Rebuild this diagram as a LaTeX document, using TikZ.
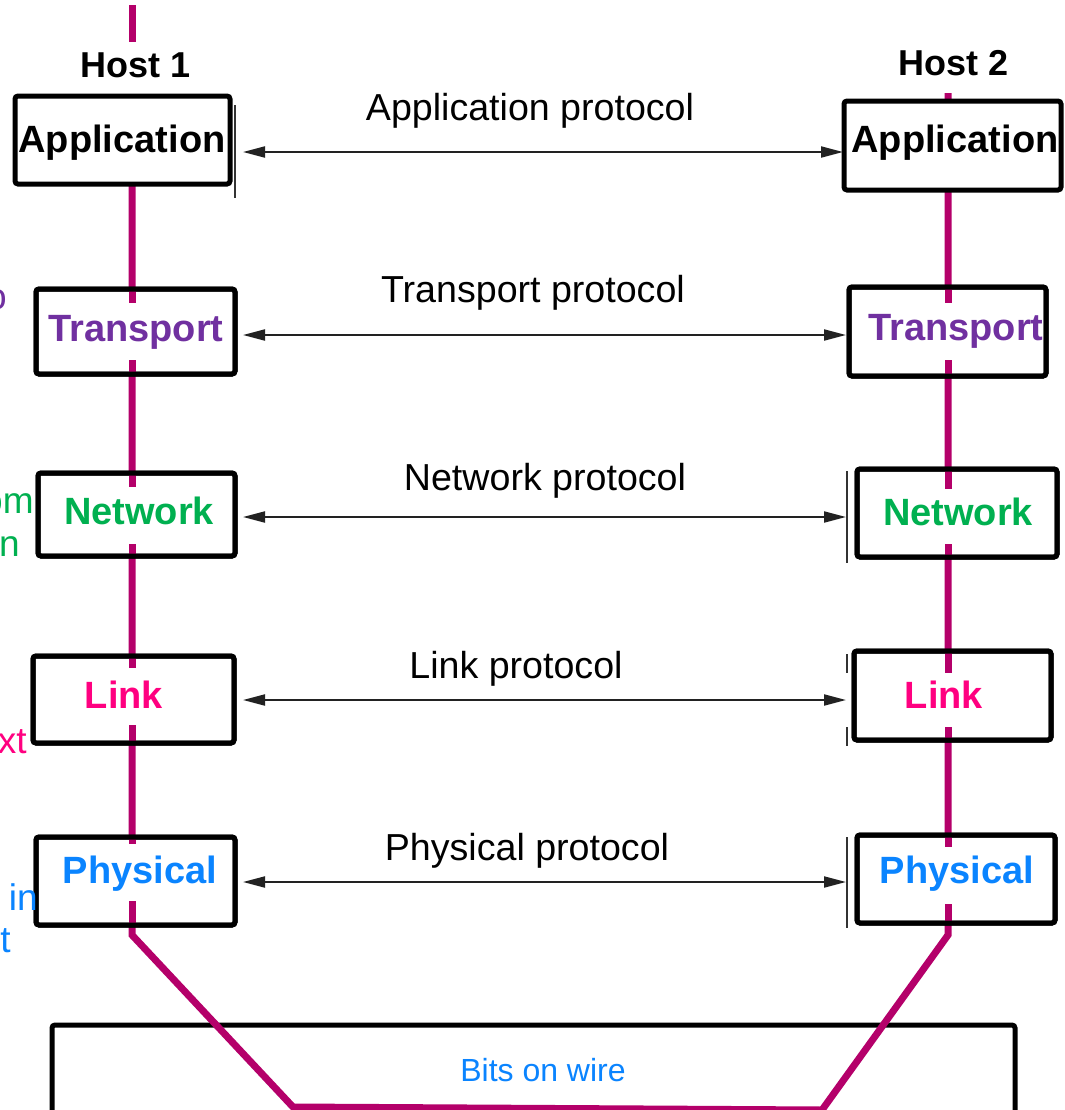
\documentclass[tikz,border=0pt]{standalone}
\usepackage{fontspec}
\setmainfont{Liberation Sans}
\usetikzlibrary{arrows.meta,calc}
\definecolor{wirec}{HTML}{B4006A}
\definecolor{tpurple}{HTML}{7030A0}
\definecolor{ngreen}{HTML}{00B050}
\definecolor{lpink}{HTML}{FF0080}
\definecolor{pblue}{HTML}{0A84FF}
\definecolor{arrowc}{HTML}{222222}
\tikzset{
  layerbox/.style={draw=black, line width=2.5pt, fill=white, rounded corners=1.5pt,
    outer sep=0pt, inner sep=0pt},
  layername/.style={anchor=base, inner sep=0pt, font=\fontsize{19pt}{23pt}\selectfont\bfseries},
  hostname/.style={anchor=base, inner sep=0pt, font=\fontsize{18pt}{22pt}\selectfont\bfseries},
  protoname/.style={anchor=base, inner sep=0pt, font=\fontsize{18.8pt}{23pt}\selectfont},
  sidenote/.style={anchor=base east, inner sep=0pt, font=\fontsize{18.5pt}{23pt}\selectfont},
  wire/.style={draw=wirec, line width=3.5pt},
  proto/.style={draw=arrowc, line width=1pt,
    {Triangle[length=11pt,width=5.5pt]}-{Triangle[length=11pt,width=5.5pt]}},
  ghostedge/.style={draw=black!80, line width=0.7pt}
}
\begin{document}
\begin{tikzpicture}[x=0.5pt,y=-0.5pt]
\useasboundingbox (0,0) rectangle (1065,1110);
\clip (0,0) rectangle (1065,1110);
\fill[white] (0,0) rectangle (1065,1110);

% wire positions of the two hosts
\coordinate (wl) at (132,0);
\coordinate (wr) at (948,0);

% the physical medium
\node[layerbox, minimum width=481.5pt, minimum height=50pt] (bits) at (533.5,1075) {};
\node[anchor=base, inner sep=0pt, text=pblue, font=\fontsize{16pt}{19pt}\selectfont] (bitslbl) at (543,1081) {Bits on wire};

% path of the data through both stacks and the wire
\coordinate (wtop) at (132,5);
\coordinate (wtopend) at (132,42);
\coordinate (wl1) at (132,186);
\coordinate (wl2) at (132,935);
\coordinate (wb1) at (293,1107);
\coordinate (wb2) at (822,1110);
\coordinate (wr2) at (948,935);
\coordinate (wr1) at (948,93);
\draw[wire] (wtop) -- (wtopend);
\draw[wire, line join=miter] (wl1) -- (wl2) -- (wb1) -- (wb2) -- (wr2) -- (wr1);

% host 1 stack
\node[layerbox, minimum width=107.5pt, minimum height=44pt]   (appL) at (122.5,140) {};
\node[layerbox, minimum width=99.5pt,  minimum height=42.5pt] (tL)   at (135.5,331.5) {};
\node[layerbox, minimum width=98.5pt,  minimum height=41.5pt] (nL)   at (136.5,514.5) {};
\node[layerbox, minimum width=100.5pt, minimum height=43.5pt] (lL)   at (133.5,699.5) {};
\node[layerbox, minimum width=99.5pt,  minimum height=44pt]   (pL)   at (135.5,881) {};

% host 2 stack
\node[layerbox, minimum width=108.5pt, minimum height=44.5pt] (appR) at (952.5,145.5) {};
\node[layerbox, minimum width=98.5pt,  minimum height=44.5pt] (tR)   at (947.5,331.5) {};
\node[layerbox, minimum width=100pt,   minimum height=44pt]   (nR)   at (957,513) {};
\node[layerbox, minimum width=98.5pt,  minimum height=44.5pt] (lR)   at (952.5,695.5) {};
\node[layerbox, minimum width=99pt,    minimum height=44pt]   (pR)   at (956,879) {};

% wire visible inside the lower layers
\draw[wire] (tL.north -| wl) -- ++(0,14);
\draw[wire] (tL.south -| wl) -- ++(0,-14);
\draw[wire] (nL.north -| wl) -- ++(0,14);
\draw[wire] (nL.south -| wl) -- ++(0,-12);
\draw[wire] (lL.north -| wl) -- ++(0,12);
\draw[wire] (lL.south -| wl) -- ++(0,-18);
\draw[wire] (pL.north -| wl) -- ++(0,7);
\draw[wire] (pL.south -| wl) -- ++(0,-24);
\draw[wire] (tR.north -| wr) -- ++(0,16);
\draw[wire] (tR.south -| wr) -- ++(0,-16);
\draw[wire] (nR.north -| wr) -- ++(0,20);
\draw[wire] (nR.south -| wr) -- ++(0,-13);
\draw[wire] (lR.north -| wr) -- ++(0,22);
\draw[wire] (lR.south -| wr) -- ++(0,-13);
\draw[wire] (pR.north -| wr) -- ++(0,12);
\draw[wire] (pR.south -| wr) -- ++(0,-19);

% redraw the borders over the wire stubs
\foreach \b in {tL,nL,lL,pL,tR,nR,lR,pR}{
  \draw[draw=black, line width=2.5pt, rounded corners=1.5pt]
    (\b.north west) rectangle (\b.south east);
}

% faint secondary edges
\draw[ghostedge] ($(appL.north east)+(5,9)$) -- ($(appL.south east)+(5,14)$);
\draw[ghostedge] ($(nR.north west)+(-10,2)$) -- ($(nR.south west)+(-10,6)$);
\draw[ghostedge] ($(lR.north west)+(-7,3)$) -- ($(lR.north west)+(-7,22)$);
\draw[ghostedge] ($(lR.south west)+(-7,-13)$) -- ($(lR.south west)+(-7,6)$);
\draw[ghostedge] ($(pR.north west)+(-10,2)$) -- ($(pR.south west)+(-10,5)$);

% host titles
\node[hostname] (h1) at (136,77) {Host 1};
\node[hostname] (h2) at (954,75) {Host 2};

% layer names
\node[layername] (appLt) at (122,152) {Application};
\node[layername] (appRt) at (955,152) {Application};
\node[layername, text=tpurple] (tLt) at (136,341) {Transport};
\node[layername, text=tpurple] (tRt) at (956,340) {Transport};
\node[layername, text=ngreen] (nLt) at (139,524) {Network};
\node[layername, text=ngreen] (nRt) at (958,525) {Network};
\node[layername, text=lpink] (lLt) at (124,708) {Link};
\node[layername, text=lpink] (lRt) at (944,708) {Link};
\node[layername, text=pblue] (pLt) at (140,883) {Physical};
\node[layername, text=pblue] (pRt) at (957,883) {Physical};

% peer protocols
\draw[proto] ($(appL.east)+(13,12)$) -- ($(appR.west)+(-1,6.5)$);
\draw[proto] ($(tL.east)+(8,3.5)$) -- ($(tR.west)+(-3,3.5)$);
\draw[proto] ($(nL.east)+(8,2.5)$) -- ($(nR.west)+(-11,4)$);
\draw[proto] ($(lL.east)+(9,0.5)$) -- ($(lR.west)+(-8,4.5)$);
\draw[proto] ($(pL.east)+(8,1)$) -- ($(pR.west)+(-11,3)$);

\node[protoname] (appP) at (530,120) {Application protocol};
\node[protoname] (tP) at (533,302) {Transport protocol};
\node[protoname] (nP) at (545,490) {Network protocol};
\node[protoname] (lP) at (516,678) {Link protocol};
\node[protoname] (pP) at (527,860) {Physical protocol};

% notes running in from the left margin
\node[sidenote, text=tpurple] (sn1) at (7,309) {o};
\node[sidenote, text=ngreen] (sn2) at (34,513) {om};
\node[sidenote, text=ngreen] (sn3) at (20,556) {n};
\node[sidenote, text=lpink] (sn4) at (27,753) {xt};
\node[sidenote, text=pblue] (sn5) at (38,910) {in};
\node[sidenote, text=pblue] (sn6) at (11,952) {t};
\end{tikzpicture}
\end{document}
